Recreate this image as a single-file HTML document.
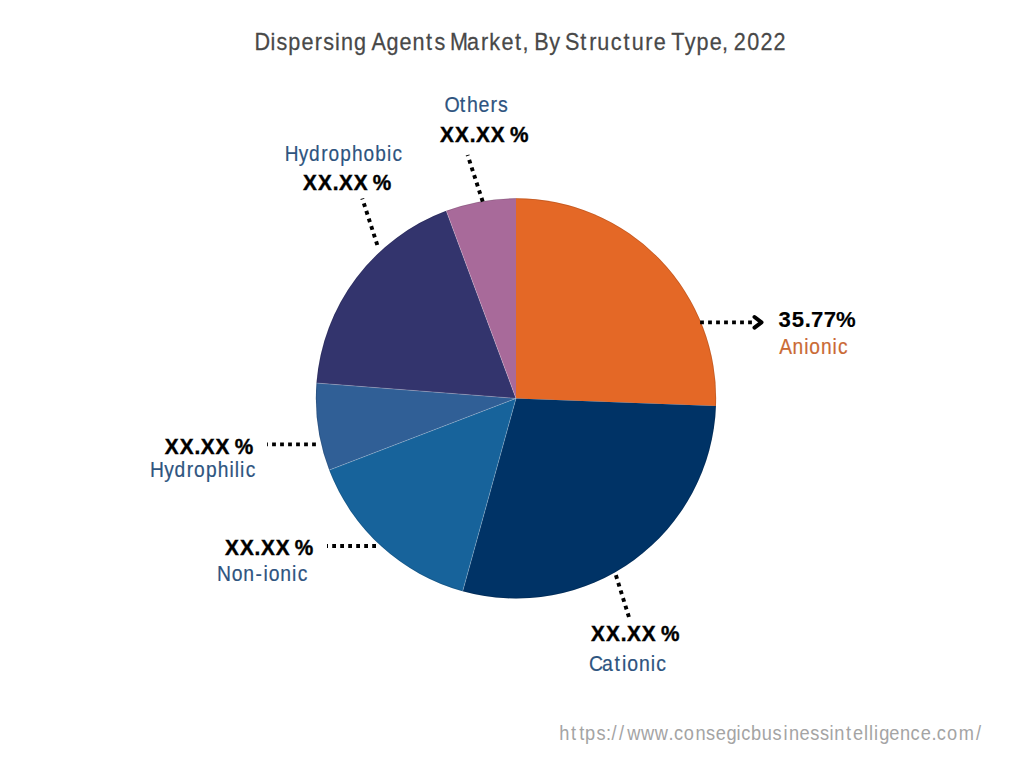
<!DOCTYPE html>
<html lang="en"><head><meta charset="utf-8"><title>Dispersing Agents Market, By Structure Type, 2022</title>
<style>
html,body{margin:0;padding:0;background:#fff;width:1024px;height:768px;overflow:hidden}
svg{display:block;font-family:"Liberation Sans",Arial,sans-serif}
</style></head><body>
<svg width="1024" height="768" viewBox="0 0 1024 768">
<rect width="1024" height="768" fill="#ffffff"/>
<g><path d="M516,398.4L516.00,198.30A200.1,200.1 0 0 1 715.96,405.91Z" fill="#E46826"/><path d="M516,398.4L715.96,405.91A200.1,200.1 0 0 1 462.69,591.27Z" fill="#003366"/><path d="M516,398.4L462.69,591.27A200.1,200.1 0 0 1 329.19,470.11Z" fill="#17639B"/><path d="M516,398.4L329.19,470.11A200.1,200.1 0 0 1 316.49,383.05Z" fill="#305F96"/><path d="M516,398.4L316.49,383.05A200.1,200.1 0 0 1 446.25,210.85Z" fill="#33346D"/><path d="M516,398.4L446.25,210.85A200.1,200.1 0 0 1 516.00,198.30Z" fill="#A86A9A"/></g>
<circle cx="516" cy="398.4" r="199.80" fill="none" stroke="#000" stroke-opacity="0.16" stroke-width="0.8"/>
<g stroke="#ffffff" stroke-opacity="0.4" stroke-width="0.6"><line x1="516" y1="398.4" x2="462.69" y2="591.27"/><line x1="516" y1="398.4" x2="329.19" y2="470.11"/><line x1="516" y1="398.4" x2="316.49" y2="383.05"/><line x1="516" y1="398.4" x2="446.25" y2="210.85"/></g>
<g stroke="#000" stroke-width="3.9" stroke-dasharray="3.8 4.2" fill="none"><line x1="482.7" y1="201.55" x2="467.6" y2="155.0"/><line x1="377.3" y1="245.0" x2="362.3" y2="198.5"/><line x1="700.1" y1="322.4" x2="752.0" y2="322.4"/><line x1="315.9" y1="444.4" x2="267.0" y2="444.4"/><line x1="376.0" y1="546.0" x2="327.0" y2="546.0"/><line x1="615.9" y1="575.2" x2="629.0" y2="617.3"/></g>
<polyline points="754.5,317 761.5,322.3 754.5,327.6" fill="none" stroke="#000" stroke-width="4" stroke-linecap="round" stroke-linejoin="round"/>
<text transform="scale(0.9272,1)" x="274.41 291.64 298.19 310.88 325.09 339.58 348.62 361.30 367.83 381.91 394.87 400.66 416.98 430.89 444.88 459.50 468.50 480.15 485.30 503.75 518.81 527.77 540.85 555.37 563.65 570.12 576.22 592.42 604.07 609.35 625.92 635.40 644.24 658.80 672.54 681.34 696.02 704.97 717.93 723.89 738.62 751.25 765.46 778.75 785.23 791.46 805.86 820.23 834.24" y="50.15" font-size="23.3" font-weight="400" fill="#484848" stroke="#484848" stroke-width="0.25">Dispersing Agents Market, By Structure Type, 2022</text>
<text transform="scale(0.9210,1)" x="482.65 499.16 507.09 519.64 532.63 540.67" y="112.25" font-size="21.3" font-weight="400" fill="#2E5480" stroke="#2E5480" stroke-width="0.2">Others</text>
<text transform="scale(0.8954,1)" x="318.09 333.74 345.22 358.65 366.89 380.04 393.06 405.97 418.95 432.15 438.46" y="160.55" font-size="21.3" font-weight="400" fill="#2E5480" stroke="#2E5480" stroke-width="0.2">Hydrophobic</text>
<text transform="scale(0.9012,1)" x="864.75 879.45 892.30 898.12 910.92 923.77 929.93" y="353.55" font-size="21.3" font-weight="400" fill="#CA6A34" stroke="#CA6A34" stroke-width="0.2">Anionic</text>
<text transform="scale(0.9021,1)" x="166.40 182.05 193.53 206.96 215.20 228.35 241.37 254.40 260.18 265.99 272.30" y="476.85" font-size="21.3" font-weight="400" fill="#2E5480" stroke="#2E5480" stroke-width="0.2">Hydrophilic</text>
<text transform="scale(0.9083,1)" x="239.04 255.15 267.95 281.24 290.06 295.87 308.68 321.53 327.69" y="580.55" font-size="21.3" font-weight="400" fill="#2E5480" stroke="#2E5480" stroke-width="0.2">Non-ionic</text>
<text transform="scale(0.9141,1)" x="644.32 658.57 672.20 680.41 686.23 699.03 711.88 718.04" y="670.55" font-size="21.3" font-weight="400" fill="#2E5480" stroke="#2E5480" stroke-width="0.2">Cationic</text>
<text transform="scale(0.9760,1)" x="450.75 466.17 481.19 487.64 502.80 517.01 522.42" y="142.50" font-size="21.3" font-weight="700" fill="#000" stroke="#000" stroke-width="0.4">XX.XX %</text>
<text transform="scale(0.9760,1)" x="310.38 325.80 340.82 347.27 362.43 376.64 382.05" y="190.50" font-size="21.3" font-weight="700" fill="#000" stroke="#000" stroke-width="0.4">XX.XX %</text>
<text transform="scale(0.9760,1)" x="168.88 184.30 199.31 205.76 220.93 235.14 240.55" y="453.70" font-size="21.3" font-weight="700" fill="#000" stroke="#000" stroke-width="0.4">XX.XX %</text>
<text transform="scale(0.9760,1)" x="230.46 245.88 260.89 267.34 282.51 296.72 302.13" y="555.50" font-size="21.3" font-weight="700" fill="#000" stroke="#000" stroke-width="0.4">XX.XX %</text>
<text transform="scale(0.9760,1)" x="605.47 620.89 635.91 642.36 657.52 671.73 677.14" y="641.50" font-size="21.3" font-weight="700" fill="#000" stroke="#000" stroke-width="0.4">XX.XX %</text>
<text transform="scale(1.0000,1)" x="778.60 791.87 804.84 810.97 823.87 835.93" y="326.60" font-size="22.1" font-weight="700" fill="#000" stroke="#000" stroke-width="0.15">35.77%</text>
<text transform="scale(0.9209,1)" x="607.32 620.03 628.94 635.37 647.64 658.06 663.98 672.07 681.02 696.00 710.93 725.87 731.77 742.61 755.14 766.76 777.21 788.82 799.73 804.96 815.63 827.27 838.97 850.93 856.78 868.32 879.74 890.33 900.66 906.02 918.70 926.20 938.17 943.70 949.03 954.74 965.72 977.42 988.79 999.93 1011.41 1017.30 1028.25 1041.09 1059.73" y="739.60" font-size="19.8" font-weight="400" fill="#A4A4A4">https://www.consegicbusinessintelligence.com/</text>
</svg>
</body></html>
